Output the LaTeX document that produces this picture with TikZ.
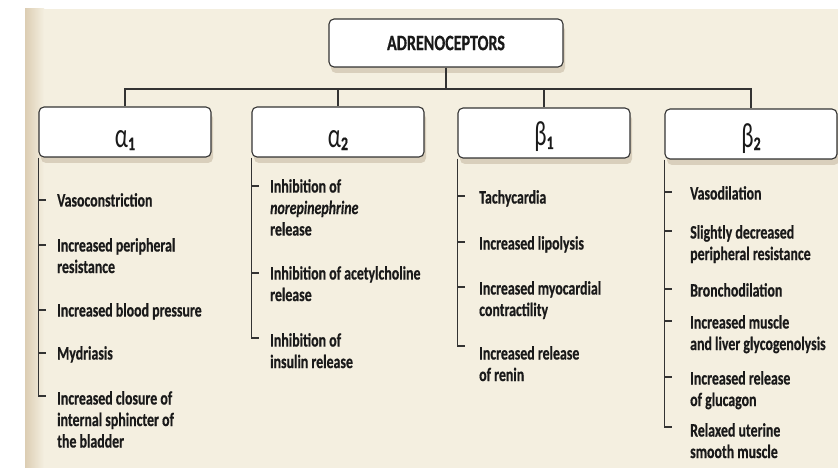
\documentclass[tikz,border=0pt]{standalone}
\usepackage{fontspec}
\setmainfont[FakeStretch=0.73, BoldFeatures={FakeBold=0.5}, BoldItalicFeatures={FakeBold=0.4}]{Carlito}
\newfontfamily\greekfont[FakeStretch=0.66]{Carlito}
\usetikzlibrary{shadows,calc}
\definecolor{paper}{HTML}{F4EFE0}
\definecolor{ink}{HTML}{1A1A1A}
\definecolor{wirec}{HTML}{333333}
\definecolor{gutter}{HTML}{DCCDB3}
\definecolor{shadec}{HTML}{A8957A}
\newcommand\gsub[1]{\raisebox{-3pt}{\fontsize{19}{19}\normalfont\bfseries #1}}
\begin{document}
\begin{tikzpicture}[x=1pt,y=-1pt,
  box/.style={draw=wirec, line width=1.1pt, fill=white, rounded corners=5pt,
    minimum width=172pt, minimum height=50pt, inner sep=0pt,
    drop shadow={shadow xshift=2pt, shadow yshift=-6pt, opacity=0.35, fill=shadec}},
  topbox/.style={box, minimum width=234pt, minimum height=48pt, text=ink,
    font=\fontsize{22}{24}\selectfont\bfseries},
  greek/.style={anchor=base, inner sep=0pt, text=ink, font=\fontsize{35}{35}\greekfont},
  item/.style={anchor=north west, inner sep=0pt, align=left, text=ink,
    font=\fontsize{19}{21.5}\selectfont\bfseries},
  link/.style={draw=wirec, line width=1.1pt},
]
\useasboundingbox (0,0) rectangle (838,468);
\fill[white] (0,0) rectangle (838,468);
\fill[paper] (25,9) rectangle (838,468);
\shade[left color=gutter, right color=paper] (25,9) rectangle (44,468);

% connectors of the tree
\coordinate (bus) at (0,89);
\node[topbox] (top) at (446,43) {ADRENOCEPTORS};
\draw[link] (top.south) -- (top.south |- bus);

\node[box] (a1) at (125,132) {};
\node[box] (a2) at (338,132) {};
\node[box] (b1) at (544,133) {};
\node[box] (b2) at (751,134) {};

\draw[link] (a1.north) -- (a1.north |- bus) -- (b2.north |- bus) -- (b2.north);
\draw[link] (a2.north) -- (a2.north |- bus);
\draw[link] (b1.north) -- (b1.north |- bus);

\node[greek] (a1t) at ($(a1.center)+(0,15)$) {α\gsub{1}};
\node[greek] (a2t) at ($(a2.center)+(0,15)$) {α\gsub{2}};
\node[greek] (b1t) at ($(b1.center)+(0,13)$) {β\gsub{1}};
\node[greek] (b2t) at ($(b2.center)+(0,13)$) {β\gsub{2}};

% alpha 1 list
\node[item] (a1i1) at (57,193) {Vasoconstriction};
\node[item] (a1i2) at (57,238) {Increased peripheral\\resistance};
\node[item] (a1i3) at (57,303) {Increased blood pressure};
\node[item] (a1i4) at (57,346) {Mydriasis};
\node[item] (a1i5) at (57,391) {Increased closure of\\internal sphincter of\\the bladder};
\draw[link] (a1.south west) |- ($(a1.south west |- a1i5.north west)+(8,5)$);
\foreach \i in {1,...,4}
  \draw[link] (a1.south west |- a1i\i.north west) ++(0,7) -- ++(8,0);

% alpha 2 list
\node[item] (a2i1) at (270,179) {Inhibition of\\\textit{norepinephrine}\\release};
\node[item] (a2i2) at (270,266) {Inhibition of acetylcholine\\release};
\node[item] (a2i3) at (270,333) {Inhibition of\\insulin release};
\draw[link] (a2.south west) |- ($(a2.south west |- a2i3.north west)+(8,5)$);
\foreach \i in {1,2}
  \draw[link] (a2.south west |- a2i\i.north west) ++(0,7) -- ++(8,0);

% beta 1 list
\node[item] (b1i1) at (479,190) {Tachycardia};
\node[item] (b1i2) at (479,236) {Increased lipolysis};
\node[item] (b1i3) at (479,281) {Increased myocardial\\contractility};
\node[item] (b1i4) at (479,346) {Increased release\\of renin};
\draw[link] (b1.south west) |- ($(b1.south west |- b1i4.north west)+(8,0)$);
\foreach \i in {1,2,3}
  \draw[link] (b1.south west |- b1i\i.north west) ++(0,6) -- ++(8,0);

% beta 2 list
\node[item] (b2i1) at (690,186) {Vasodilation};
\node[item] (b2i2) at (690,225) {Slightly decreased\\peripheral resistance};
\node[item] (b2i3) at (690,283) {Bronchodilation};
\node[item] (b2i4) at (690,315) {Increased muscle\\and liver glycogenolysis};
\node[item] (b2i5) at (690,371) {Increased release\\of glucagon};
\node[item] (b2i6) at (690,423) {Relaxed uterine\\smooth muscle};
\draw[link] (b2.south west) |- ($(b2.south west |- b2i6.north west)+(8,4)$);
\foreach \i in {1,...,5}
  \draw[link] (b2.south west |- b2i\i.north west) ++(0,6) -- ++(8,0);
\end{tikzpicture}
\end{document}
